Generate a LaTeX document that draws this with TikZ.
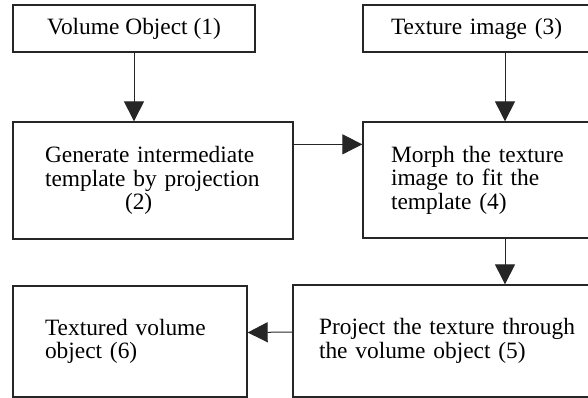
\documentclass[tikz,border=0pt]{standalone}
\usepackage{fontspec}
\setmainfont{Liberation Serif}
\usepackage{tikz}
\usetikzlibrary{positioning,shapes,arrows.meta}

\begin{document}
\begin{tikzpicture}
            [x=0.5pt,y=-0.5pt,every node/.style={draw=black!85, rectangle, line width=0.65pt, inner ysep=0pt, font=\fontsize{11.7pt}{11.8pt}\selectfont},
             flow/.style={draw=black!85, line width=0.5pt, -{Triangle[length=10pt,width=10pt]}}]
          \useasboundingbox (0,0) rectangle (588,397);
          \clip (0,0) rectangle (588,397);

          \node[minimum width=121pt, minimum height=23.5pt, align=center] (n1) at (134,28.5) {Volume Object (1)};
          \node[minimum width=142pt, minimum height=23.5pt, inner xsep=14pt, text width=114pt, align=left] (n3) at (505,28.5) {Texture image (3)};

          \node[minimum width=140pt, minimum height=58.5pt, inner xsep=16pt, text width=108pt, align=left] (n2) at (153,180.5)
            {Generate intermediate\\ template by projection\\ \hspace*{40pt}(2)};
          \node[minimum width=142pt, minimum height=58pt, inner xsep=14pt, text width=114pt, align=left] (n4) at (505,180)
            {Morph the texture\\ image to fit the\\ template (4)};

          \node[minimum width=212pt, minimum height=56pt, inner xsep=13pt, text width=186pt, align=left] (n5) at (505,341)
            {Project the texture through\\ the volume object (5)};
          \node[minimum width=117pt, minimum height=55.5pt, inner xsep=16pt, text width=85pt, align=left] (n6) at (130,341.5)
            {Textured volume\\ object (6)};

          \foreach \from/\to in {n1/n2, n3/n4, n4/n5}
            \draw[flow] (\from.south) -- (\from.south |- \to.north);
          \draw[flow] ([yshift=-11.5pt]n2.north east) -- ([yshift=-11.5pt]n4.north west);
          \draw[flow] ([yshift=4.5pt]n5.west) -- ([yshift=4.5pt]n6.east);
        \end{tikzpicture}
\end{document}
